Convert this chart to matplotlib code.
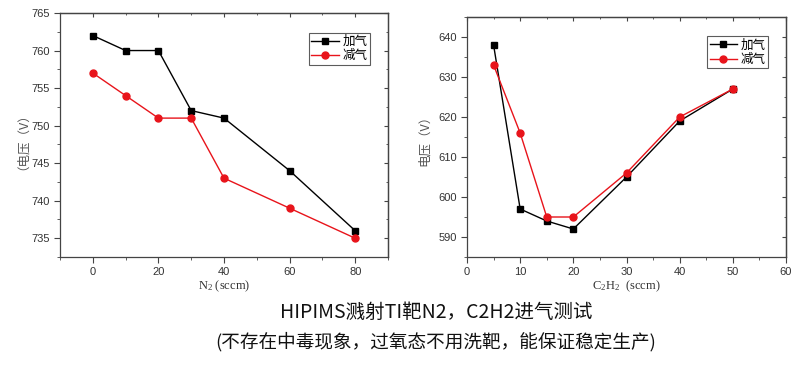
import matplotlib.pyplot as plt
from matplotlib.ticker import MultipleLocator, NullFormatter

plt.rcParams['font.family'] = ['Liberation Sans', 'Noto Sans CJK SC']
plt.rcParams['mathtext.fontset'] = 'custom'
plt.rcParams['mathtext.rm'] = 'Liberation Serif'
plt.rcParams['mathtext.it'] = 'Liberation Serif:italic'

n2 = [0, 10, 20, 30, 40, 60, 80]
n2_add = [762, 760, 760, 752, 751, 744, 736]
n2_sub = [757, 754, 751, 751, 743, 739, 735]

c2h2 = [5, 10, 15, 20, 30, 40, 50]
c2h2_add = [638, 597, 594, 592, 605, 619, 627]
c2h2_sub = [633, 616, 595, 595, 606, 620, 627]

cjk = ['Noto Sans CJK SC', 'DejaVu Sans']
serif = ['Liberation Serif', 'Noto Sans CJK SC']
frame = '#444444'

fig = plt.figure(figsize=(8, 3.72), dpi=100)
ax1 = fig.add_axes([60/800, 1-257/372, 328/800, 244/372])
ax2 = fig.add_axes([467/800, 1-257/372, 319/800, 240/372])


def draw(ax, x, a, b):
    ax.plot(x, a, color='black', marker='s', markersize=4.5, lw=1, label='加气')
    ax.plot(x, b, color='#e8141b', marker='o', markersize=5, lw=1, label='减气')
    leg = ax.legend(loc='upper right', prop={'family': cjk, 'size': 9},
                    fancybox=False, edgecolor='#333333', handlelength=2.2,
                    borderpad=0.2, labelspacing=0.1, handletextpad=0.3,
                    borderaxespad=0, bbox_to_anchor=(0.945, 0.92))
    leg.get_frame().set_linewidth(0.8)


def style(ax, xmaj, xmin, ymaj, ymin):
    ax.xaxis.set_major_locator(MultipleLocator(xmaj))
    ax.xaxis.set_minor_locator(MultipleLocator(xmin))
    ax.yaxis.set_major_locator(MultipleLocator(ymaj))
    ax.yaxis.set_minor_locator(MultipleLocator(ymin))
    for s in ax.spines.values():
        s.set_color(frame)
        s.set_linewidth(0.9)
    ax.tick_params(which='both', direction='out', colors=frame,
                   labelcolor='#333333', labelsize=8)
    ax.tick_params(which='major', length=4)
    ax.tick_params(which='minor', length=2)
    # mirrored ticks on top / right, pointing inward
    top = ax.secondary_xaxis('top')
    right = ax.secondary_yaxis('right')
    top.xaxis.set_major_locator(MultipleLocator(xmaj))
    top.xaxis.set_minor_locator(MultipleLocator(xmin))
    top.xaxis.set_major_formatter(NullFormatter())
    right.yaxis.set_major_locator(MultipleLocator(ymaj))
    right.yaxis.set_minor_locator(MultipleLocator(ymin))
    right.yaxis.set_major_formatter(NullFormatter())
    for sec in (top, right):
        sec.tick_params(which='both', direction='in', colors=frame)
        sec.tick_params(which='major', length=3)
        sec.tick_params(which='minor', length=1.5)
        for s in sec.spines.values():
            s.set_color(frame)
            s.set_linewidth(0.9)


draw(ax1, n2, n2_add, n2_sub)
ax1.set_xlim(-10, 90)
ax1.set_ylim(732.5, 765)
style(ax1, 20, 10, 5, 2.5)
ax1.set_xlabel('N$_2$ (sccm)', family=serif, fontsize=9, color='#333333', labelpad=1)
ax1.set_ylabel('（电压（V）', family=cjk, fontsize=9, color='#555555', labelpad=6)

draw(ax2, c2h2, c2h2_add, c2h2_sub)
ax2.set_xlim(0, 60)
ax2.set_ylim(585, 645)
style(ax2, 10, 5, 10, 5)
ax2.set_xlabel('C$_2$H$_2$  (sccm)', family=serif, fontsize=9, color='#333333', labelpad=1)
ax2.set_ylabel('电压（V）', family=cjk, fontsize=9, color='#555555', labelpad=5)

fig.text(436/800, 1-312/372, 'HIPIMS溅射TI靶N2，C2H2进气测试', ha='center', va='center',
         fontsize=14, family=cjk, color='#111111')
fig.text(436/800, 1-342/372, '(不存在中毒现象，过氧态不用洗靶，能保证稳定生产)', ha='center',
         va='center', fontsize=13.4, family=cjk, color='#111111')

fig.savefig('out.png', dpi=100)
